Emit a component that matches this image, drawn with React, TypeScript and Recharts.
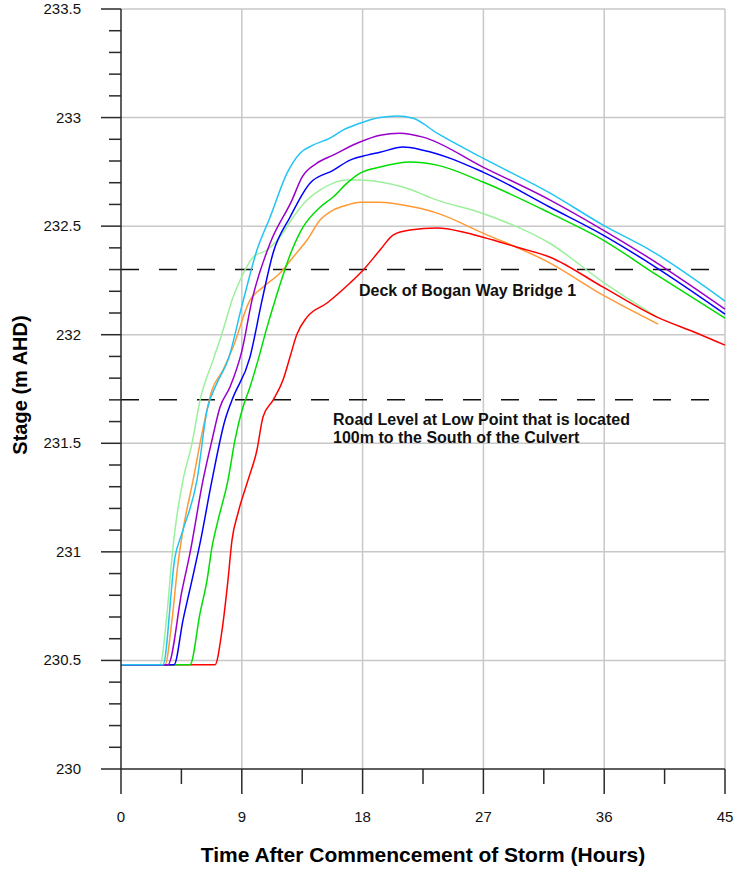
import React from "react";
import { LineChart, Line, XAxis, YAxis, ReferenceLine, ReferenceDot, Label } from "recharts";

// axis ticks
const xTicks = [0, 4.5, 9, 13.5, 18, 22.5, 27, 31.5, 36, 40.5, 45];
const xMajor = [0, 9, 18, 27, 36, 45];
const yTicks = [
  230, 230.1, 230.2, 230.3, 230.4, 230.5, 230.6, 230.7, 230.8, 230.9,
  231, 231.1, 231.2, 231.3, 231.4, 231.5, 231.6, 231.7, 231.8, 231.9,
  232, 232.1, 232.2, 232.3, 232.4, 232.5, 232.6, 232.7, 232.8, 232.9,
  233, 233.1, 233.2, 233.3, 233.4, 233.5,
];
const yMajor = [230, 230.5, 231, 231.5, 232, 232.5, 233, 233.5];

// levels of interest
const deckLevel = 232.3;
const roadLevel = 231.7;

// [hours, stage]
const cyan: number[][] = [
  [0, 230.48], [3.13, 230.48], [4.02, 230.976], [4.55, 231.087], [5.66, 231.33],
  [6.41, 231.653], [7.15, 231.777], [7.97, 231.883], [9.02, 232.136], [10.13, 232.39],
  [11.1, 232.54], [12.37, 232.744], [13.34, 232.836], [14.3, 232.873], [15.57, 232.905],
  [16.54, 232.942], [17.81, 232.974], [19.3, 233.0], [20.57, 233.007], [21.76, 232.997],
  [23.55, 232.928], [26.97, 232.813], [31.97, 232.652], [35.92, 232.505], [39.42, 232.39],
  [45, 232.155],
];
const purple: number[][] = [
  [0, 230.48], [3.5, 230.48], [4.55, 230.824], [5.14, 230.994], [6.11, 231.33],
  [6.78, 231.515], [7.38, 231.667], [8.12, 231.759], [9.02, 231.929], [9.76, 232.159],
  [11.1, 232.42], [12.74, 232.62], [13.49, 232.726], [14.6, 232.79], [15.8, 232.827],
  [17.59, 232.882], [19.3, 232.919], [20.79, 232.928], [22.5, 232.91], [26.97, 232.772],
  [31.97, 232.62], [35.92, 232.482], [39.94, 232.33], [45, 232.118],
];
const blue: number[][] = [
  [0, 230.48], [3.95, 230.48], [4.62, 230.686], [5.29, 230.87], [5.89, 231.04],
  [6.78, 231.33], [7.75, 231.607], [8.27, 231.699], [9.61, 231.897], [10.51, 232.159],
  [11.33, 232.376], [12.59, 232.541], [14.08, 232.698], [15.8, 232.757], [17.06, 232.804],
  [18.33, 232.827], [19.3, 232.84], [21.01, 232.864], [22.5, 232.85], [26.97, 232.749],
  [31.97, 232.587], [35.92, 232.459], [39.94, 232.307], [45, 232.095],
];
const green: number[][] = [
  [0, 230.48], [5.14, 230.48], [5.89, 230.718], [6.41, 230.87], [6.78, 231.022],
  [7.23, 231.146], [7.97, 231.33], [8.49, 231.515], [9.02, 231.653], [9.61, 231.759],
  [10.21, 231.883], [10.88, 232.035], [11.48, 232.159], [12.74, 232.39], [13.56, 232.495],
  [14.83, 232.587], [15.8, 232.634], [16.84, 232.698], [17.81, 232.744], [19.3, 232.772],
  [21.53, 232.795], [23.55, 232.781], [26.97, 232.703], [31.97, 232.56], [35.92, 232.436],
  [39.94, 232.274], [45, 232.076],
];
const lightGreen: number[][] = [
  [0, 230.48], [2.9, 230.48], [3.43, 230.718], [3.8, 230.976], [4.02, 231.1],
  [4.62, 231.33], [5.29, 231.5], [5.89, 231.699], [6.86, 231.883], [7.6, 232.021],
  [8.27, 232.159], [8.87, 232.251], [9.84, 232.357], [10.88, 232.39], [11.85, 232.45],
  [12.82, 232.541], [13.86, 232.62], [14.83, 232.666], [15.8, 232.698], [16.84, 232.712],
  [17.81, 232.712], [19.3, 232.703], [21.01, 232.68], [23.55, 232.62], [26.97, 232.558],
  [31.97, 232.42], [35.92, 232.242], [39.94, 232.081],
];
const orange: number[][] = [
  [0, 230.48], [3.28, 230.48], [3.8, 230.686], [4.25, 230.948], [4.62, 231.1],
  [5.37, 231.33], [6.04, 231.547], [6.78, 231.745], [7.6, 231.837], [8.35, 231.943],
  [9.61, 232.159], [10.58, 232.219], [11.85, 232.284], [12.82, 232.357], [13.86, 232.436],
  [14.83, 232.528], [15.8, 232.574], [16.84, 232.597], [17.81, 232.61], [19.3, 232.61],
  [21.01, 232.597], [23.55, 232.56], [26.97, 232.468], [31.97, 232.33], [35.92, 232.182],
  [40.01, 232.049],
];
const red: number[][] = [
  [0, 230.48], [7.0, 230.48], [7.53, 230.64], [7.97, 230.87], [8.27, 231.054],
  [8.72, 231.179], [9.46, 231.33], [10.13, 231.469], [10.58, 231.621], [11.33, 231.699],
  [12.07, 231.791], [12.59, 231.897], [13.09, 232.0], [13.86, 232.081], [15.35, 232.146],
  [17.06, 232.238], [18.03, 232.297], [19.3, 232.39], [20.27, 232.459], [21.53, 232.482],
  [23.55, 232.491], [25.48, 232.473], [26.97, 232.449], [29.51, 232.403], [31.97, 232.357],
  [35.92, 232.219], [39.94, 232.081], [42.92, 232.007], [45, 231.952],
];

// drawing order matters where the flat starts overlap
const series = [
  { name: "lightGreen", points: lightGreen, color: "#9cf09c" },
  { name: "orange", points: orange, color: "#ff9933" },
  { name: "red", points: red, color: "#ff0000" },
  { name: "green", points: green, color: "#00dd00" },
  { name: "blue", points: blue, color: "#0000ff" },
  { name: "purple", points: purple, color: "#9900cc" },
  { name: "cyan", points: cyan, color: "#22c4f4" },
];

const font = "Arial, 'Liberation Sans', sans-serif";
const axisColor = "#2a2a2a";
const gridColor = "#c8c8c8";

function XTick(props: any) {
  const { x, y, payload } = props;
  const major = xMajor.includes(payload.value);
  return (
    <g>
      <line x1={x} x2={x} y1={y} y2={y + (major ? 25 : 15)} stroke={axisColor} strokeWidth={1.5} />
      {major && (
        <text x={x} y={y + 53} textAnchor="middle" fontSize={15} fontFamily={font} fill="#111">
          {payload.value}
        </text>
      )}
    </g>
  );
}

function YTick(props: any) {
  const { x, y, payload } = props;
  const major = yMajor.includes(payload.value);
  return (
    <g>
      <line x1={x - (major ? 20 : 12)} x2={x} y1={y} y2={y} stroke={axisColor} strokeWidth={1.5} />
      {major && (
        <text x={x - 40} y={y + 5} textAnchor="end" fontSize={15} fontFamily={font} fill="#111">
          {payload.value}
        </text>
      )}
    </g>
  );
}

function YTitle(props: any) {
  const { viewBox } = props;
  const x = viewBox.x + 27;
  const y = viewBox.y + viewBox.height / 2 - 4;
  return (
    <text
      x={x}
      y={y}
      transform={`rotate(-90, ${x}, ${y})`}
      textAnchor="middle"
      fontSize={20}
      fontWeight="bold"
      fontFamily={font}
      fill="#000"
    >
      Stage (m AHD)
    </text>
  );
}

const noteStyle = { fontSize: 16, fontWeight: "bold", fontFamily: font, fill: "#111" };

function Note({ viewBox, lines }: any) {
  return (
    <text x={viewBox.x} y={viewBox.y} style={noteStyle as any}>
      {lines.map((l: string, i: number) => (
        <tspan key={i} x={viewBox.x} dy={i === 0 ? 0 : 18}>
          {l}
        </tspan>
      ))}
    </text>
  );
}

export default function App() {
  return (
    <div style={{ position: "absolute", left: 0, top: 0, width: 734, height: 871, background: "#fff" }}>
      <LineChart width={734} height={871} margin={{ top: 9, right: 9, bottom: 0, left: 0 }}>
        <XAxis
          dataKey="t"
          type="number"
          domain={[0, 45]}
          ticks={xTicks}
          interval={0}
          tickSize={0}
          tickMargin={0}
          tickLine={false}
          tick={<XTick />}
          height={102}
          axisLine={{ stroke: axisColor, strokeWidth: 1.5 }}
          label={{
            value: "Time After Commencement of Storm (Hours)",
            position: "insideBottom",
            offset: 9,
            fontSize: 21,
            fontWeight: "bold",
            fontFamily: font,
            fill: "#000",
          }}
        />
        <YAxis
          dataKey="v"
          type="number"
          domain={[230, 233.5]}
          ticks={yTicks}
          interval={0}
          tickSize={0}
          tickMargin={0}
          tickLine={false}
          tick={<YTick />}
          width={121}
          axisLine={{ stroke: axisColor, strokeWidth: 1.5 }}
        >
          <Label content={<YTitle />} />
        </YAxis>

        {xMajor.slice(1).map((v) => (
          <ReferenceLine key={`gx-${v}`} x={v} stroke={gridColor} strokeWidth={1.5} />
        ))}
        {yMajor.slice(1).map((v) => (
          <ReferenceLine key={`gy-${v}`} y={v} stroke={gridColor} strokeWidth={1.5} />
        ))}

        <ReferenceLine y={deckLevel} stroke="#111" strokeWidth={1.5} strokeDasharray="18 20" />
        <ReferenceLine y={roadLevel} stroke="#111" strokeWidth={1.5} strokeDasharray="18 20" />

        <ReferenceDot
          x={17.73}
          y={232.18}
          r={0}
          fill="none"
          stroke="none"
          label={<Note lines={["Deck of Bogan Way Bridge 1"]} />}
        />
        <ReferenceDot
          x={15.8}
          y={231.584}
          r={0}
          fill="none"
          stroke="none"
          label={<Note lines={["Road Level at Low Point that is located", "100m to the South of the Culvert"]} />}
        />

        {series.map((s) => (
          <Line
            key={s.name}
            data={s.points.map(([t, v]) => ({ t, v }))}
            dataKey="v"
            type="monotone"
            stroke={s.color}
            strokeWidth={1.5}
            dot={false}
            activeDot={false}
            isAnimationActive={false}
          />
        ))}
      </LineChart>
    </div>
  );
}
